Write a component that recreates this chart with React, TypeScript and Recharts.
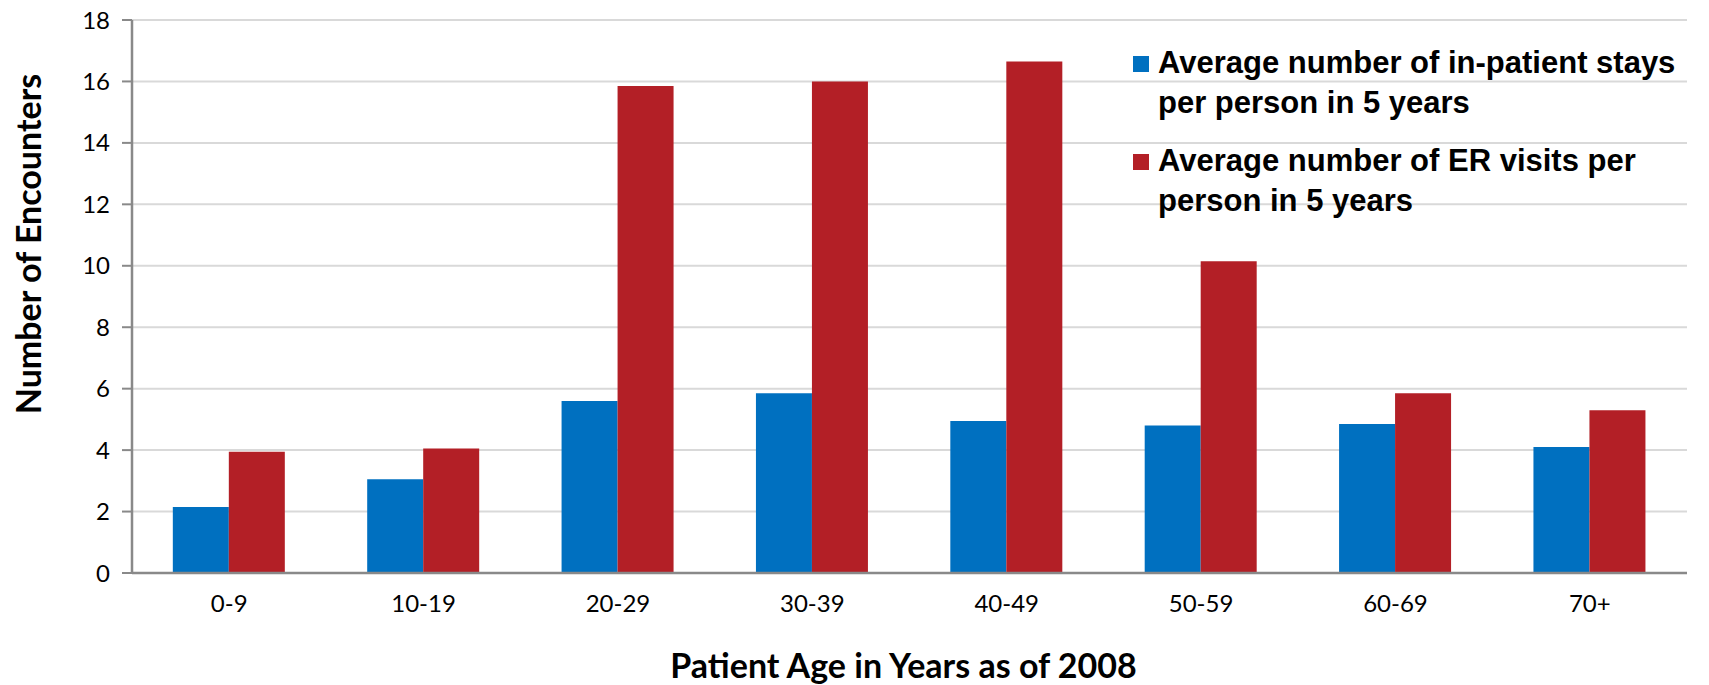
import React from 'react';
import { BarChart, Bar, XAxis, YAxis, CartesianGrid } from 'recharts';

const ageGroups = ['0-9', '10-19', '20-29', '30-39', '40-49', '50-59', '60-69', '70+'];
const inpatientStays = [2.15, 3.05, 5.6, 5.85, 4.95, 4.8, 4.85, 4.1];
const erVisits = [3.95, 4.05, 15.85, 16.0, 16.65, 10.15, 5.85, 5.3];
const yTicks = [0, 2, 4, 6, 8, 10, 12, 14, 16, 18];

const BLUE = '#0070C0';
const RED = '#B31F26';

const data = ageGroups.map((age, i) => ({
  age,
  stays: inpatientStays[i],
  er: erVisits[i],
}));

// legend text wraps like the original
const legendItems = [
  { color: BLUE, lines: ['Average number of in-patient stays', 'per person in 5 years'] },
  { color: RED, lines: ['Average number of ER visits per', 'person in 5 years'] },
];

const LegendBox = () => (
  <div
    style={{
      position: 'absolute',
      left: 1133,
      top: 43,
      fontFamily: '"Liberation Sans", Arial, sans-serif',
      fontWeight: 700,
      fontSize: 31,
      color: '#000',
      lineHeight: '40px',
      whiteSpace: 'nowrap',
    }}
  >
    {legendItems.map((item, i) => (
      <div key={i} style={{ display: 'flex', alignItems: 'flex-start', marginBottom: i === 0 ? 18 : 0 }}>
        <div style={{ width: 16, height: 16, background: item.color, marginTop: 13, marginRight: 9, flexShrink: 0 }} />
        <div>
          {item.lines.map((l, j) => (
            <div key={j}>{l}</div>
          ))}
        </div>
      </div>
    ))}
  </div>
);

const YTitle = () => {
  const cx = 27;
  const cy = 244;
  return (
    <text
      x={cx}
      y={cy}
      transform={`rotate(-90, ${cx}, ${cy})`}
      textAnchor="middle"
      dominantBaseline="central"
      fontFamily="Lato, sans-serif"
      fontWeight={700}
      fontSize={34}
      fill="#000"
    >
      Number of Encounters
    </text>
  );
};

const XTitle = ({ viewBox }: any) => {
  const cx = viewBox.x + viewBox.width / 2 - 6;
  return (
    <text
      x={cx}
      y={664}
      textAnchor="middle"
      dominantBaseline="central"
      fontFamily="Lato, sans-serif"
      fontWeight={700}
      fontSize={34}
      fill="#000"
    >
      Patient Age in Years as of 2008
    </text>
  );
};

export default function App() {
  return (
    <div style={{ position: 'absolute', left: 0, top: 0, width: 1709, height: 685, background: '#fff' }}>
      <BarChart
        width={1709}
        height={685}
        data={data}
        margin={{ top: 20, right: 22, left: 0, bottom: 52 }}
        barCategoryGap="21%"
        barGap={0}
      >
        <CartesianGrid vertical={false} stroke="#d9d9d9" strokeWidth={2} />
        <XAxis
          dataKey="age"
          height={60}
          tickLine={false}
          tickSize={8}
          tickMargin={14}
          axisLine={{ stroke: '#898989', strokeWidth: 2.5 }}
          tick={{ fill: '#000', fontSize: 24, fontFamily: 'Lato, sans-serif' }}
          label={<XTitle />}
        />
        <YAxis
          width={132}
          domain={[0, 18]}
          ticks={yTicks}
          interval={0}
          tickSize={10}
          tickMargin={12}
          axisLine={{ stroke: '#898989', strokeWidth: 2.5 }}
          tickLine={{ stroke: '#898989', strokeWidth: 2 }}
          tick={{ fill: '#000', fontSize: 24, fontFamily: 'Lato, sans-serif' }}
          label={<YTitle />}
        />
        <Bar dataKey="stays" name="Average number of in-patient stays per person in 5 years" fill={BLUE} isAnimationActive={false} />
        <Bar dataKey="er" name="Average number of ER visits per person in 5 years" fill={RED} isAnimationActive={false} />
      </BarChart>
      <LegendBox />
    </div>
  );
}
